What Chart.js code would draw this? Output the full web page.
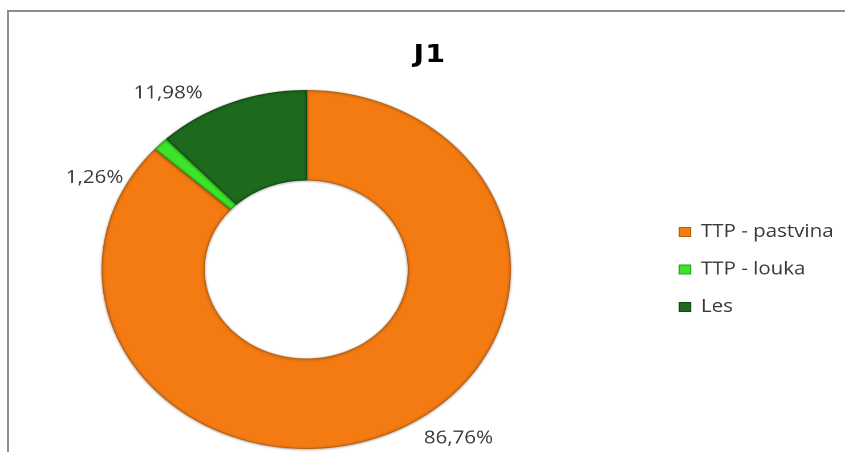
<!DOCTYPE html>
<html>
<head>
<meta charset="utf-8">
<script src="https://cdn.jsdelivr.net/npm/chart.js@4.4.1/dist/chart.umd.min.js"></script>
<style>
  html, body { margin: 0; padding: 0; background: #fff; overflow: hidden; }
  body { width: 845px; height: 452px; position: relative; }
  #frame {
    position: absolute; left: 7px; top: 10px; right: -20px; bottom: -20px;
    border-top: 2px solid #8c8c8c; border-left: 2px solid #8c8c8c;
  }
  /* the whole figure is drawn 741px wide and widened to the page width */
  #wrap {
    position: absolute; left: 0; top: 0; width: 741px; height: 452px;
    transform: scaleX(1.1404); transform-origin: 0 0;
  }
  #title {
    position: absolute; left: 0; top: 39px; width: 754px; line-height: 28px;
    text-align: center; font: bold 25px "DejaVu Sans"; letter-spacing: 1px; color: #000;
  }
  #chart { position: absolute; left: -39px; top: 0; width: 780px; height: 452px; }
</style>
</head>
<body>
<div id="frame"></div>
<div id="wrap">
  <div id="title">J1</div>
  <div id="chart"><canvas id="c"></canvas></div>
</div>
<script>
// land use shares for area J1 (percent)
const categories = ['TTP - pastvina', 'TTP - louka', 'Les'];
const shares = [86.76, 1.26, 11.98];

const formatShare = v => v.toFixed(2).replace('.', ',') + '%';

// soft shadow under the ring
const ringShadow = {
  id: 'ringShadow',
  beforeDatasetsDraw(chart) {
    const c = chart.ctx;
    c.save();
    c.shadowColor = 'rgba(0,0,0,0.35)';
    c.shadowBlur = 5;
    c.shadowOffsetX = 0;
    c.shadowOffsetY = 1;
  },
  afterDatasetsDraw(chart) {
    chart.ctx.restore();
  }
};

// percentage labels placed outside each slice
const sliceLabels = {
  id: 'sliceLabels',
  afterDatasetsDraw(chart, args, opts) {
    const c = chart.ctx;
    const meta = chart.getDatasetMeta(0);
    c.save();
    c.font = opts.font;
    c.fillStyle = opts.color;
    c.textAlign = 'center';
    c.textBaseline = 'middle';
    meta.data.forEach((arc, i) => {
      const p = arc.getProps(['x', 'y', 'startAngle', 'endAngle', 'outerRadius'], true);
      const mid = (p.startAngle + p.endAngle) / 2;
      const r = p.outerRadius + opts.gap;
      const off = opts.offsets[i];
      c.fillText(formatShare(shares[i]),
        p.x + Math.cos(mid) * r + off[0],
        p.y + Math.sin(mid) * r + off[1]);
    });
    c.restore();
  }
};

new Chart(document.getElementById('c'), {
  type: 'doughnut',
  data: {
    labels: categories,
    datasets: [{
      data: shares,
      backgroundColor: ['#F47B12', '#3DE42A', '#1D6A1E'],
      borderColor: ['#B8600F', '#26A01A', '#124A13'],
      borderWidth: 1,
      clip: false
    }]
  },
  options: {
    responsive: true,
    maintainAspectRatio: false,
    devicePixelRatio: 2,
    animation: false,
    cutout: '50%',
    layout: { padding: { left: 0, top: 90, right: 0, bottom: 3 } },
    font: { family: '"Open Sans"' },
    plugins: {
      title: { display: false },
      tooltip: { enabled: false },
      legend: {
        position: 'right',
        labels: {
          font: { family: '"Open Sans"', size: 18 },
          color: '#3a3a3a',
          boxWidth: 10,
          boxHeight: 9,
          padding: 19.5
        }
      },
      sliceLabels: {
        font: '18px "Open Sans"',
        color: '#3a3a3a',
        gap: 20,
        offsets: [[53, -13], [-44, 48], [-48, 9]]
      }
    }
  },
  plugins: [ringShadow, sliceLabels]
});
</script>
</body>
</html>
